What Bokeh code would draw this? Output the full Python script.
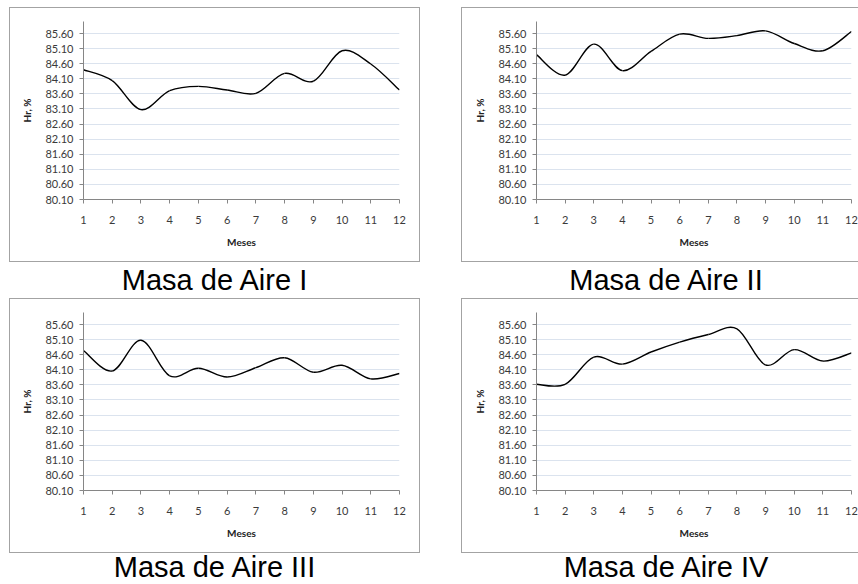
from bokeh.plotting import figure
from bokeh.models import FixedTicker, NumeralTickFormatter, Div, Range1d
from bokeh.layouts import row, column
from bokeh.embed import file_html
from bokeh.resources import INLINE

months = [1, 2, 3, 4, 5, 6, 7, 8, 9, 10, 11, 12]
y_ticks = [80.10, 80.60, 81.10, 81.60, 82.10, 82.60, 83.10, 83.60, 84.10, 84.60, 85.10, 85.60]

masa_I = [84.40, 84.04, 83.08, 83.71, 83.85, 83.73, 83.62, 84.28, 84.02, 85.03, 84.59, 83.73]
masa_II = [84.90, 84.22, 85.25, 84.37, 85.01, 85.58, 85.44, 85.53, 85.69, 85.27, 85.03, 85.67]
masa_III = [84.74, 84.06, 85.08, 83.90, 84.15, 83.86, 84.17, 84.50, 84.02, 84.25, 83.80, 83.98]
masa_IV = [83.62, 83.62, 84.52, 84.29, 84.69, 85.02, 85.27, 85.46, 84.26, 84.77, 84.39, 84.66]

captions = ["Masa de Aire I", "Masa de Aire II", "Masa de Aire III", "Masa de Aire IV"]

FONT = "Lato"
TXT = "#3a3a3a"
AX = "#868686"
BORDER = "1px solid #a3a3a3"


def smooth_segments(xs, ys):
    n = len(xs)
    x0, y0, x1, y1, cx0, cy0, cx1, cy1 = [], [], [], [], [], [], [], []
    for i in range(n - 1):
        im1 = max(i - 1, 0)
        ip2 = min(i + 2, n - 1)
        x0.append(xs[i]); y0.append(ys[i])
        x1.append(xs[i + 1]); y1.append(ys[i + 1])
        cx0.append(xs[i] + (xs[i + 1] - xs[im1]) / 6.0)
        cy0.append(ys[i] + (ys[i + 1] - ys[im1]) / 6.0)
        cx1.append(xs[i + 1] - (xs[ip2] - xs[i]) / 6.0)
        cy1.append(ys[i + 1] - (ys[ip2] - ys[i]) / 6.0)
    return dict(x0=x0, y0=y0, x1=x1, y1=y1, cx0=cx0, cy0=cy0, cx1=cx1, cy1=cy1)


def make_panel(values, width, left_border, right_border):
    p = figure(width=width, height=253, output_backend="svg", toolbar_location=None,
               x_range=Range1d(1, 12), y_range=Range1d(80.10, 86.0),
               min_border_left=left_border, min_border_right=right_border,
               min_border_top=13, min_border_bottom=62, styles={"outline": BORDER})
    p.outline_line_color = None
    p.background_fill_color = "white"
    p.border_fill_color = "white"

    p.xaxis.ticker = FixedTicker(ticks=months)
    p.yaxis.ticker = FixedTicker(ticks=y_ticks)
    p.yaxis.formatter = NumeralTickFormatter(format="0.00")
    p.xgrid.grid_line_color = None
    p.ygrid.ticker = FixedTicker(ticks=y_ticks)
    p.ygrid.grid_line_color = "#dbe3ee"
    p.ygrid.grid_line_width = 1

    for ax in (p.xaxis, p.yaxis):
        ax.axis_line_color = AX
        ax.major_tick_line_color = AX
        ax.major_tick_out = 4
        ax.major_tick_in = 0
        ax.minor_tick_line_color = None
        ax.major_label_text_font = FONT
        ax.major_label_text_font_size = "11px"
        ax.major_label_text_color = TXT
        ax.axis_label_text_font = FONT
        ax.axis_label_text_font_size = "10px"
        ax.axis_label_text_font_style = "bold"
        ax.axis_label_text_color = "#222222"
    p.xaxis.axis_label = "Meses"
    p.yaxis.axis_label = "Hr, %"
    p.xaxis.major_label_standoff = 12
    p.xaxis.axis_label_standoff = 9
    p.yaxis.major_label_standoff = 6
    p.yaxis.axis_label_standoff = 9

    p.bezier(source=smooth_segments(months, values), x0="x0", y0="y0", x1="x1", y1="y1",
             cx0="cx0", cy0="cy0", cx1="cx1", cy1="cy1",
             line_color="black", line_width=1.4)
    return p


def make_caption(text, width, height, lh, left=0):
    return Div(text=text, width=width, height=height, margin=(0, 0, 0, left),
               styles={"font-family": "Liberation Sans, Arial", "font-size": "29px",
                       "text-align": "center", "line-height": lh, "color": "#000000"})


p1 = make_panel(masa_I, 409, 73, 20)
p2 = make_panel(masa_II, 396, 74, 7)
p3 = make_panel(masa_III, 409, 73, 20)
p4 = make_panel(masa_IV, 396, 74, 7)

d1 = make_caption(captions[0], 409, 38, "38px")
d2 = make_caption(captions[1], 382, 38, "38px", left=13)
d3 = make_caption(captions[2], 409, 32, "31px")
d4 = make_caption(captions[3], 382, 32, "31px", left=13)

layout = column(
    row(p1, p2, spacing=43),
    row(d1, d2, spacing=43),
    row(p3, p4, spacing=43),
    row(d3, d4, spacing=43),
    spacing=0, margin=(8, 0, 0, 10),
)

open("out.html", "w").write(file_html(layout, INLINE))
